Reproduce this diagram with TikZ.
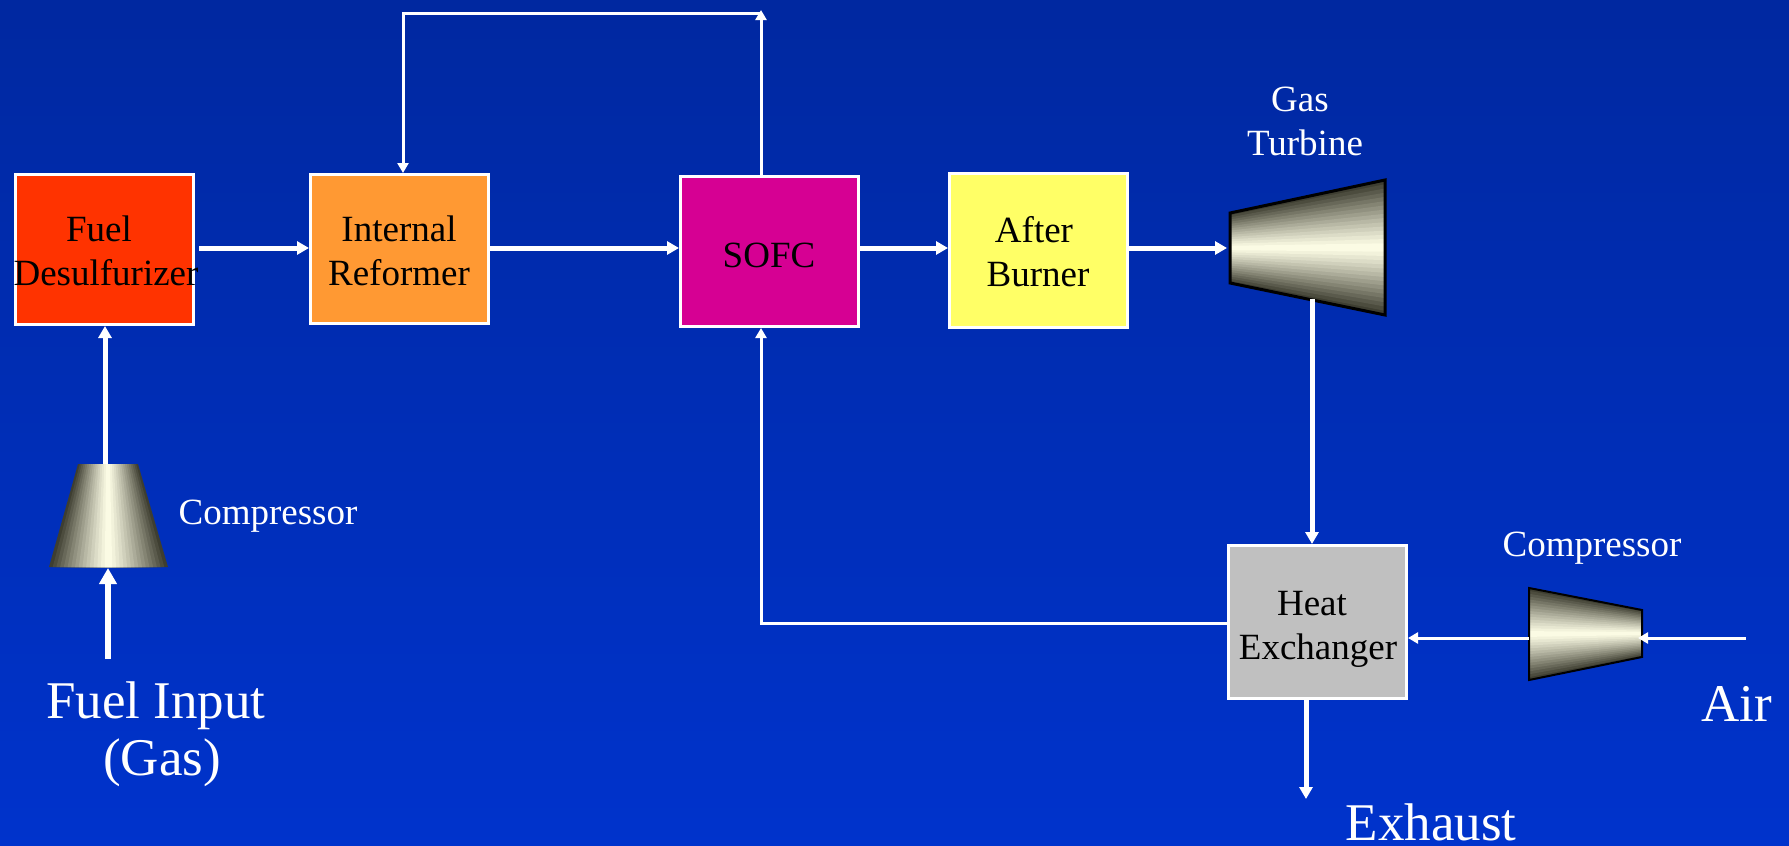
\documentclass[tikz,border=0pt]{standalone}
\usepackage{fontspec}
\setmainfont{Liberation Serif}
\usetikzlibrary{arrows.meta,calc,positioning}
\definecolor{bgtop}{RGB}{0,40,160}
\definecolor{bgbot}{RGB}{0,51,204}
\definecolor{cfuel}{RGB}{255,51,0}
\definecolor{cref}{RGB}{255,153,51}
\definecolor{csofc}{RGB}{214,0,147}
\definecolor{caft}{RGB}{255,255,102}
\definecolor{chx}{RGB}{192,192,192}
\definecolor{metdark}{RGB}{55,55,42}
\definecolor{metlight}{RGB}{255,255,232}
\tikzset{
  blockbox/.style={draw=white,line width=1.5pt,inner sep=0pt,anchor=north west},
  blocktxt/.style={anchor=base,inner sep=0pt,text=black,font=\fontsize{18.5}{18.5}\selectfont},
  lab/.style={anchor=base,inner sep=0pt,text=white,font=\fontsize{18.5}{18.5}\selectfont},
  biglab/.style={anchor=base,inner sep=0pt,text=white,font=\fontsize{26.5}{26.5}\selectfont},
  thinflow/.style={draw=white,line width=1.5pt,-{Triangle[length=5pt,width=5.5pt]}},
  midflow/.style={draw=white,line width=2.5pt,-{Triangle[length=6pt,width=6.5pt]}},
  fatflow/.style={draw=white,line width=3pt,-{Triangle[length=8pt,width=8.5pt]}},
}
% shaded tapered body between edge a-b and edge d-c: nested bands, lightest in the middle
\newcommand{\trapband}[4]{%
  \foreach \i in {0,...,15}{%
    \pgfmathsetmacro{\ta}{\i/32}%
    \pgfmathsetmacro{\tb}{1-\i/32}%
    \pgfmathsetmacro{\dd}{1-(\i+0.5)/16}%
    \pgfmathsetmacro{\pp}{100*(1-pow(\dd,1.15))}%
    \path[fill={metlight!\pp!metdark}]
      ($(#1)!\ta!(#4)$) -- ($(#2)!\ta!(#3)$) -- ($(#2)!\tb!(#3)$) -- ($(#1)!\tb!(#4)$) -- cycle;
  }%
}
\begin{document}
\begin{tikzpicture}[x=0.5pt,y=-0.5pt]
\useasboundingbox (0,0) rectangle (1789,846);
\shade[top color=bgtop,bottom color=bgbot] (0,0) rectangle (1789,846);

% blocks
\node[blockbox,fill=cfuel,minimum width=89pt,minimum height=75pt] (fd) at (14,173) {};
\node[blockbox,fill=cref,minimum width=89pt,minimum height=74.5pt] (ir) at (309,173) {};
\node[blockbox,fill=csofc,minimum width=89pt,minimum height=75pt] (sofc) at (679,175) {};
\node[blockbox,fill=caft,minimum width=89pt,minimum height=77pt] (ab) at (948,172) {};
\node[blockbox,fill=chx,minimum width=89pt,minimum height=76.5pt] (hx) at (1227,544) {};

\node[blocktxt] (t1) at (99,241) {Fuel};
\node[blocktxt] (t2) at (106,285) {Desulfurizer};
\node[blocktxt] (t3) at (399,241) {Internal};
\node[blocktxt] (t4) at (399,285) {Reformer};
\node[blocktxt] (t5) at (769,267) {SOFC};
\node[blocktxt] (t6) at (1034,242) {After};
\node[blocktxt] (t7) at (1038,286) {Burner};
\node[blocktxt] (t8) at (1312,615) {Heat};
\node[blocktxt] (t9) at (1318,659) {Exchanger};

% left compressor
\coordinate (ca) at (78,464); \coordinate (cb) at (49,567);
\coordinate (cc) at (168,567); \coordinate (cd) at (138,464);
\trapband{ca}{cb}{cc}{cd}
% gas turbine
\coordinate (ga) at (1230,213); \coordinate (gb) at (1385,180);
\coordinate (gc) at (1385,315); \coordinate (gd) at (1230,283);
\trapband{ga}{gb}{gc}{gd}
\draw[black,line width=1.5pt,line join=miter] (ga) -- (gb) -- (gc) -- (gd) -- cycle;
% air compressor
\coordinate (aa) at (1529,588); \coordinate (ab2) at (1642,610);
\coordinate (ac) at (1642,657); \coordinate (ad) at (1529,680);
\trapband{aa}{ab2}{ac}{ad}
\draw[black,line width=1pt,line join=miter] (aa) -- (ab2) -- (ac) -- (ad) -- cycle;

% connector ends
\coordinate (fuelin) at (108,659);
\coordinate (cin) at (108,568);
\coordinate (cout) at (105,464);
\coordinate (gin) at (1227,248);
\coordinate (gout) at (1312,299);
\coordinate (aout) at (1529,638);
\coordinate (ain) at (1638,638);
\coordinate (airsrc) at (1746,638);
\coordinate (exh) at (1306,799);
\coordinate (topL) at (403,13);
\coordinate (topR) at (761,10);
\coordinate (retc) at (761,623);

% connectors
\draw[fatflow] (fuelin) -- (cin);
\draw[midflow] (cout) -- (fd.south -| cout);
\draw[midflow] ([xshift=2pt]fd.east |- 0,248) -- (ir.west |- 0,248);
\draw[midflow] (ir.east |- 0,248) -- (sofc.west |- 0,248);
\draw[midflow] (sofc.east |- 0,248) -- (ab.west |- 0,248);
\draw[midflow] (ab.east |- 0,248) -- (gin);
\draw[midflow] (gout) -- (hx.north -| gout);
\draw[midflow] (hx.south -| exh) -- (exh);
\draw[thinflow] (sofc.north -| topR) -- (topR);
\draw[thinflow] (topR |- topL) -- (topL) -- (ir.north -| topL);
\draw[thinflow] (hx.west |- retc) -- (retc) -- (sofc.south -| retc);
\draw[thinflow] (aout) -- (hx.east |- aout);
\draw[thinflow] (airsrc) -- (ain);

% labels
\node[lab] (l1) at (268,524) {Compressor};
\node[lab] (l2) at (1592,556) {Compressor};
\node[lab] (l3) at (1300,111) {Gas};
\node[lab] (l4) at (1305,155) {Turbine};
\node[biglab] (l5) at (156,718) {Fuel Input};
\node[biglab] (l6) at (162,775) {(Gas)};
\node[biglab] (l7) at (1737,721) {Air};
\node[biglab] (l8) at (1431,840) {Exhaust};
\end{tikzpicture}
\end{document}
